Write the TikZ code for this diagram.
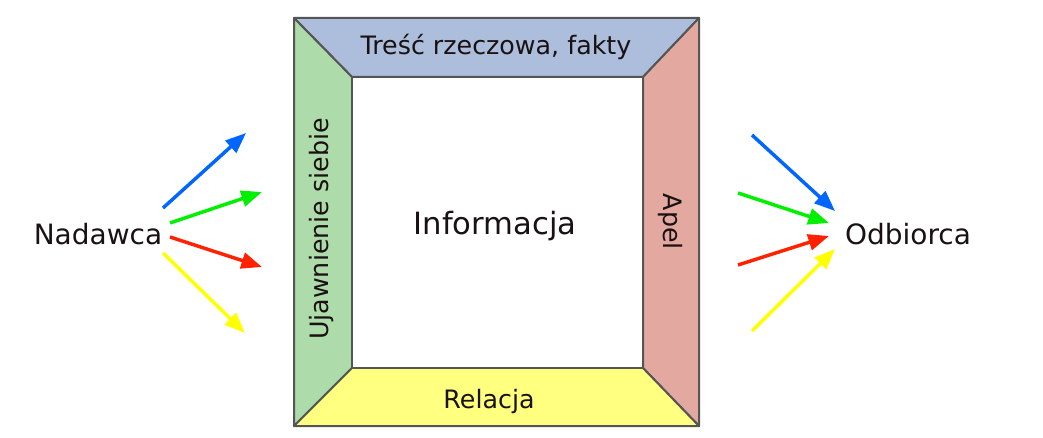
\documentclass[tikz,border=0pt]{standalone}
\usepackage{fontspec}
\setmainfont{DejaVu Sans}
\usetikzlibrary{positioning, arrows.meta}

\definecolor{topband}{HTML}{ADBEDC}
\definecolor{leftband}{HTML}{ADDCAA}
\definecolor{rightband}{HTML}{E3A9A1}
\definecolor{bottomband}{HTML}{FFFF80}
\definecolor{edgegray}{HTML}{555555}
\definecolor{sigblue}{HTML}{0066FF}
\definecolor{siggreen}{HTML}{00F000}
\definecolor{sigred}{HTML}{FF2200}
\definecolor{sigyellow}{HTML}{FFFF00}
\definecolor{inktext}{HTML}{1A1212}

\begin{document}
\begin{tikzpicture}[
        x=0.75pt, y=-0.75pt,
        band/.style={draw=edgegray, line width=1.5pt, line join=round},
        bandtext/.style={text=inktext, font=\fontsize{19}{22}\selectfont, inner sep=0pt},
        person/.style={text=inktext, font=\fontsize{21}{25}\selectfont, inner sep=0pt},
        signal/.style={line width=2.6pt, -{Triangle[length=15.5pt, width=12pt]}}
    ]
    \useasboundingbox (0,0) rectangle (1043,438);

    % Frame corners
    \coordinate (otl) at (294,18);
    \coordinate (otr) at (699,18);
    \coordinate (obr) at (699,426);
    \coordinate (obl) at (294,426);
    \coordinate (itl) at (352,77);
    \coordinate (itr) at (643,77);
    \coordinate (ibr) at (643,368);
    \coordinate (ibl) at (352,368);

    % Bands
    \filldraw[band, fill=topband] (otl) -- (otr) -- (itr) -- (itl) -- cycle;
    \filldraw[band, fill=leftband] (otl) -- (itl) -- (ibl) -- (obl) -- cycle;
    \filldraw[band, fill=rightband] (otr) -- (obr) -- (ibr) -- (itr) -- cycle;
    \filldraw[band, fill=bottomband] (obl) -- (ibl) -- (ibr) -- (obr) -- cycle;
    \draw[band, fill=white] (itl) rectangle (ibr);

    % Nodes
    \node (fakty) [bandtext] at (496,47) {Treść rzeczowa, fakty};
    \node (relacja) [bandtext] at (489,402) {Relacja};
    \node (ujawnienie) [bandtext, rotate=90] at (322,229) {Ujawnienie siebie};
    \node (apel) [bandtext, rotate=-90] at (670,222) {Apel};
    \node (informacja) [text=inktext, font=\fontsize{23}{27}\selectfont, inner sep=0pt] at (495,226) {Informacja};
    \node (nadawca) [person] at (98,234) {Nadawca};
    \node (odbiorca) [person] at (908,234) {Odbiorca};

    % Arrow ends
    \coordinate (nblue) at (163,208);   \coordinate (nbluetip) at (246,133);
    \coordinate (ngreen) at (170,223);  \coordinate (ngreentip) at (262,192);
    \coordinate (nred) at (170,237);    \coordinate (nredtip) at (262,267);
    \coordinate (nyellow) at (163,253); \coordinate (nyellowtip) at (245,333);
    \coordinate (oblue) at (752,135);   \coordinate (obluetip) at (835,211);
    \coordinate (ogreen) at (738,193);  \coordinate (ogreentip) at (829,223);
    \coordinate (ored) at (738,265);    \coordinate (oredtip) at (829,236);
    \coordinate (oyellow) at (752,331); \coordinate (oyellowtip) at (835,249);

    % Arrows
    \draw[signal, sigblue] (nblue) -- (nbluetip);
    \draw[signal, siggreen] (ngreen) -- (ngreentip);
    \draw[signal, sigred] (nred) -- (nredtip);
    \draw[signal, sigyellow] (nyellow) -- (nyellowtip);
    \draw[signal, sigblue] (oblue) -- (obluetip);
    \draw[signal, siggreen] (ogreen) -- (ogreentip);
    \draw[signal, sigred] (ored) -- (oredtip);
    \draw[signal, sigyellow] (oyellow) -- (oyellowtip);

\end{tikzpicture}
\end{document}
